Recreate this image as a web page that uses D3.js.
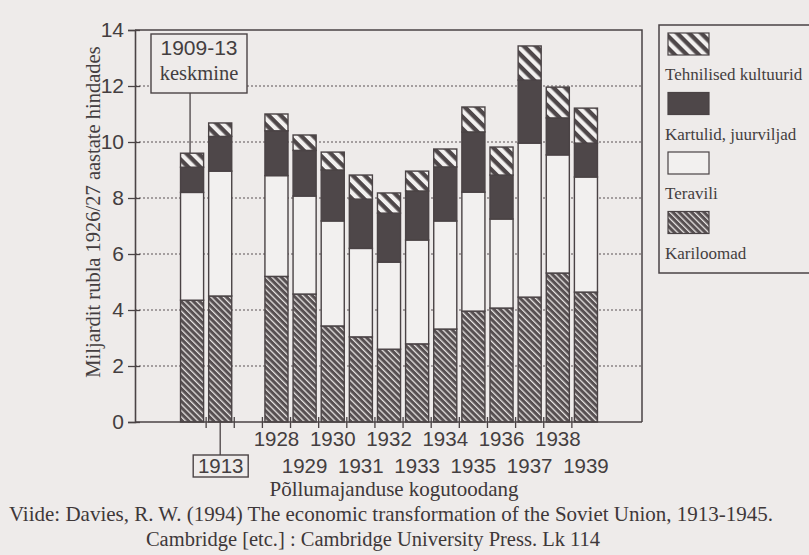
<!DOCTYPE html>
<html>
<head>
<meta charset="utf-8">
<script src="https://cdn.jsdelivr.net/npm/d3@7"></script>
<style>
  body { margin: 0; background: #eeebea; }
  svg { display: block; }
</style>
</head>
<body>
<svg width="809" height="555"></svg>
<script>
// values in billion roubles, 1926/27 prices
const years = ["1909-13", "1913", "1928", "1929", "1930", "1931", "1932", "1933",
               "1934", "1935", "1936", "1937", "1938", "1939"];
const kariloomad = [4.35, 4.5, 5.2, 4.57, 3.43, 3.04, 2.6, 2.79, 3.32, 3.96, 4.07, 4.46, 5.32, 4.64];
const teravili   = [3.85, 4.46, 3.6, 3.5, 3.75, 3.16, 3.11, 3.71, 3.86, 4.25, 3.18, 5.5, 4.22, 4.11];
const kartulid   = [0.9, 1.24, 1.6, 1.63, 1.82, 1.76, 1.75, 1.75, 1.93, 2.15, 1.57, 2.25, 1.32, 1.21];
const tehnilised = [0.5, 0.48, 0.6, 0.55, 0.64, 0.86, 0.72, 0.71, 0.64, 0.89, 1.0, 1.22, 1.1, 1.25];
const yTicks = [0, 2, 4, 6, 8, 10, 12, 14];
const seriesNames = ["Tehnilised kultuurid", "Kartulid, juurviljad", "Teravili", "Kariloomad"];

const ink = "#4a4345";
const dark = "#4e4749";
const paper = "#eeebea";
const txt = "#443e40";
const sans = "'Liberation Sans', Arial, sans-serif";
const serif = "'Liberation Serif', 'Times New Roman', serif";

const svg = d3.select("svg");

// slots along the x axis: a blank one between 1913 and 1928
const slots = years.slice(0, 2).concat(["_gap"], years.slice(2));

const x = d3.scaleBand().domain(slots).range([178, 600]).paddingInner(0.18).paddingOuter(0.09);
const y = d3.scaleLinear().domain([0, 14]).range([422, 30]);
const plotL = 135, plotR = 642;

// patterns
const defs = svg.append("defs");
const p1 = defs.append("pattern").attr("id", "hatchDense")
  .attr("patternUnits", "userSpaceOnUse").attr("width", 4.4).attr("height", 10)
  .attr("patternTransform", "rotate(-45)");
p1.append("rect").attr("width", 4.4).attr("height", 10).attr("fill", "#575052");
p1.append("rect").attr("x", 0).attr("width", 1.3).attr("height", 10).attr("fill", "#e6e2e1");

const p2 = defs.append("pattern").attr("id", "hatchWide")
  .attr("patternUnits", "userSpaceOnUse").attr("width", 8.5).attr("height", 10)
  .attr("patternTransform", "rotate(-45)");
p2.append("rect").attr("width", 8.5).attr("height", 10).attr("fill", dark);
p2.append("rect").attr("x", 0).attr("width", 4.2).attr("height", 10).attr("fill", "#f2f0ef");

const fills = {
  "Kariloomad": "url(#hatchDense)",
  "Teravili": "#f2f0ef",
  "Kartulid, juurviljad": dark,
  "Tehnilised kultuurid": "url(#hatchWide)"
};

// gridlines
svg.append("g").selectAll("line").data(yTicks.filter(d => d > 0 && d < 14)).join("line")
  .attr("x1", plotL).attr("x2", plotR)
  .attr("y1", d => y(d)).attr("y2", d => y(d))
  .attr("stroke", "#5a5355").attr("stroke-width", 1.1).attr("stroke-dasharray", "2,2");

// stacked bars
const rows = years.map((yr, i) => ({
  year: yr,
  "Kariloomad": kariloomad[i],
  "Teravili": teravili[i],
  "Kartulid, juurviljad": kartulid[i],
  "Tehnilised kultuurid": tehnilised[i]
}));
const stack = d3.stack().keys(["Kariloomad", "Teravili", "Kartulid, juurviljad", "Tehnilised kultuurid"]);
const layers = stack(rows);

svg.append("g").selectAll("g").data(layers).join("g")
  .attr("fill", d => fills[d.key])
  .selectAll("rect").data(d => d).join("rect")
  .attr("x", d => x(d.data.year))
  .attr("width", x.bandwidth())
  .attr("y", d => y(d[1]))
  .attr("height", d => y(d[0]) - y(d[1]))
  .attr("stroke", ink).attr("stroke-width", 1.4);

// frame and axes
svg.append("path")
  .attr("d", `M${plotL},${y(14)}H${plotR}V${y(0)}`)
  .attr("fill", "none").attr("stroke", ink).attr("stroke-width", 1.5);
svg.append("line").attr("x1", plotL).attr("x2", plotR).attr("y1", y(0)).attr("y2", y(0))
  .attr("stroke", ink).attr("stroke-width", 1.6);

const yAxis = svg.append("g").attr("transform", `translate(${plotL},0)`)
  .call(d3.axisLeft(y).tickValues(yTicks).tickSize(7).tickPadding(4).tickFormat(d3.format("d")));
yAxis.select(".domain").attr("stroke", ink).attr("stroke-width", 1.6);
yAxis.selectAll(".tick line").attr("stroke", ink).attr("stroke-width", 1.3).attr("x2", -7).attr("x1", 5);
yAxis.selectAll(".tick text").attr("font-family", sans).attr("font-size", 21).attr("fill", txt);

// x ticks between slots
const step = x.step(), gapHalf = (step - x.bandwidth()) / 2;
const boundaries = slots.slice(1).map(s => x(s) - gapHalf);
svg.append("g").selectAll("line").data(boundaries).join("line")
  .attr("x1", d => d).attr("x2", d => d).attr("y1", y(0) - 5).attr("y2", y(0) + 6)
  .attr("stroke", ink).attr("stroke-width", 1.3);

// x labels: even years on the first row, odd on the second
const labelYears = years.slice(2);
svg.append("g").selectAll("text").data(labelYears).join("text")
  .attr("x", d => x(d) + x.bandwidth() / 2)
  .attr("y", d => (+d % 2 === 0) ? 446 : 473)
  .attr("text-anchor", "middle").attr("font-family", sans).attr("font-size", 20.5)
  .attr("fill", txt).text(d => d);

// 1913 boxed label
const c1913 = x("1913") + x.bandwidth() / 2;
svg.append("line").attr("x1", c1913).attr("x2", c1913).attr("y1", y(0)).attr("y2", 455)
  .attr("stroke", ink).attr("stroke-width", 1.3);
svg.append("rect").attr("x", c1913 - 27).attr("y", 455).attr("width", 55).attr("height", 22)
  .attr("fill", paper).attr("stroke", ink).attr("stroke-width", 1.4);
svg.append("text").attr("x", c1913 + 0.5).attr("y", 473).attr("text-anchor", "middle")
  .attr("font-family", sans).attr("font-size", 20.5).attr("fill", txt).text("1913");

// 1909-13 average callout
const cAvg = x("1909-13") + x.bandwidth() / 2;
const avgTop = kariloomad[0] + teravili[0] + kartulid[0] + tehnilised[0];
svg.append("line").attr("x1", cAvg - 2).attr("x2", cAvg - 2).attr("y1", 93).attr("y2", y(avgTop))
  .attr("stroke", ink).attr("stroke-width", 1.3);
svg.append("rect").attr("x", 151).attr("y", 34).attr("width", 96).attr("height", 59)
  .attr("fill", paper).attr("stroke", ink).attr("stroke-width", 1.4);
svg.append("text").attr("x", 199).attr("y", 55).attr("text-anchor", "middle")
  .attr("font-family", sans).attr("font-size", 21).attr("fill", txt).text("1909-13");
svg.append("text").attr("x", 199).attr("y", 80).attr("text-anchor", "middle")
  .attr("font-family", serif).attr("font-size", 20.5).attr("fill", txt).text("keskmine");

// y title
svg.append("text").attr("transform", "translate(100,212) rotate(-90)")
  .attr("text-anchor", "middle").attr("font-family", serif).attr("font-size", 20.5)
  .attr("fill", txt).text("Miljardit rubla 1926/27 aastate hindades");

// x title and source
svg.append("text").attr("x", 394).attr("y", 496).attr("text-anchor", "middle")
  .attr("font-family", serif).attr("font-size", 21).attr("fill", "#3e3839").text("Põllumajanduse kogutoodang");
svg.append("text").attr("x", 391).attr("y", 521).attr("text-anchor", "middle")
  .attr("font-family", serif).attr("font-size", 21).attr("fill", "#3e3839")
  .text("Viide: Davies, R. W. (1994) The economic transformation of the Soviet Union, 1913-1945.");
svg.append("text").attr("x", 373).attr("y", 546).attr("text-anchor", "middle")
  .attr("font-family", serif).attr("font-size", 20.5).attr("fill", "#3e3839")
  .text("Cambridge [etc.] : Cambridge University Press. Lk 114");

// legend
const legend = svg.append("g");
legend.append("rect").attr("x", 659).attr("y", 25).attr("width", 170).attr("height", 248)
  .attr("fill", paper).attr("stroke", ink).attr("stroke-width", 1.5);
const legItems = legend.selectAll("g").data(seriesNames).join("g")
  .attr("transform", (d, i) => `translate(668,${33 + i * 59.5})`);
legItems.append("rect").attr("width", 41).attr("height", 22)
  .attr("fill", d => fills[d]).attr("stroke", ink).attr("stroke-width", 1.2);
legItems.append("text").attr("x", -3).attr("y", 47)
  .attr("font-family", serif).attr("font-size", 17).attr("fill", txt).text(d => d);
</script>
</body>
</html>
